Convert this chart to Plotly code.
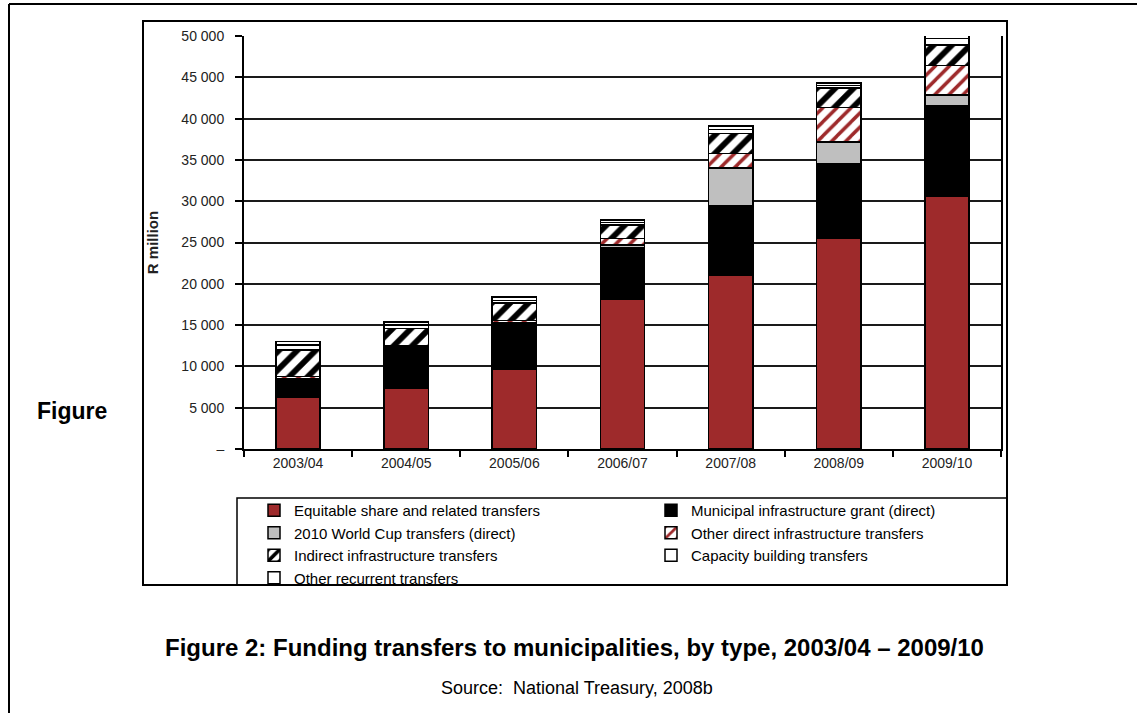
import plotly.graph_objects as go

# ---------------- data (R million) ----------------
years = ["2003/04", "2004/05", "2005/06", "2006/07", "2007/08", "2008/09", "2009/10"]
equitable = [6300, 7400, 9700, 18100, 21000, 25500, 30600]
mig = [2250, 5050, 5600, 6300, 8400, 9000, 11000]
world_cup = [0, 0, 0, 300, 4600, 2650, 1250]
other_direct = [250, 0, 250, 800, 1800, 4200, 3600]
indirect = [3200, 2150, 2150, 1600, 2400, 2350, 2450]
capacity = [600, 400, 300, 300, 500, 300, 800]
other_recurrent = [400, 400, 400, 300, 400, 300, 400]

y_tickvals = [0, 5000, 10000, 15000, 20000, 25000, 30000, 35000, 40000, 45000, 50000]
y_ticktext = ["–", "5 000", "10 000", "15 000", "20 000", "25 000", "30 000",
              "35 000", "40 000", "45 000", "50 000"]

# ---------------- geometry helpers ----------------
W, H = 1137, 713
PL, PR, PT, PB = 244, 1001, 36, 449
PW, PH = PR - PL, PB - PT


def px(x):
    return (x - PL) / PW


def py(y):
    return (PB - y) / PH


FONT = "Liberation Sans, Arial, sans-serif"
RED = "#9E2A2B"
LINE = dict(color="black", width=1.5)

series = [
    ("Equitable share and related transfers", equitable, dict(color=RED), "legend"),
    ("Municipal infrastructure grant (direct)", mig, dict(color="black"), "legend2"),
    ("2010 World Cup transfers (direct)", world_cup, dict(color="#BFBFBF"), "legend"),
    ("Other direct infrastructure transfers", other_direct,
     dict(color="white", pattern=dict(shape="/", fgcolor=RED, bgcolor="white",
                                      fgopacity=1, size=10, solidity=0.35)), "legend2"),
    ("Indirect infrastructure transfers", indirect,
     dict(color="white", pattern=dict(shape="/", fgcolor="black", bgcolor="white",
                                      fgopacity=1, size=13, solidity=0.45)), "legend"),
    ("Capacity building transfers", capacity, dict(color="white"), "legend2"),
    ("Other recurrent transfers", other_recurrent, dict(color="white"), "legend"),
]

fig = go.Figure()
for name, vals, mk, leg in series:
    marker = dict(mk)
    marker["line"] = LINE
    fig.add_trace(go.Bar(name=name, x=years, y=vals, marker=marker,
                         legend=leg, cliponaxis=False))

shapes = [
    # outer page frame (left and top edges)
    dict(type="line", xref="paper", yref="paper", x0=px(9), x1=px(9), y0=py(4), y1=py(730),
         line=dict(color="black", width=2)),
    dict(type="line", xref="paper", yref="paper", x0=px(9), x1=px(1150), y0=py(4), y1=py(4),
         line=dict(color="black", width=2)),
    # chart frame
    dict(type="rect", xref="paper", yref="paper", x0=px(143), x1=px(1007), y0=py(585), y1=py(21),
         line=dict(color="black", width=2)),
    # legend frame
    dict(type="rect", xref="paper", yref="paper", x0=px(237), x1=px(1007), y0=py(585), y1=py(498),
         line=dict(color="black", width=1.5)),
]

annotations = [
    dict(text="<b>Figure</b>", x=px(35), y=py(411), xref="paper", yref="paper",
         xanchor="left", yanchor="middle", showarrow=False,
         font=dict(family=FONT, size=23, color="black")),
    dict(text="<b>Figure 2: Funding transfers to municipalities, by type, 2003/04 – 2009/10</b>",
         x=px(574), y=py(647), xref="paper", yref="paper", xanchor="center", yanchor="middle",
         showarrow=False, font=dict(family=FONT, size=24, color="black")),
    dict(text="Source:  National Treasury, 2008b",
         x=px(577), y=py(688), xref="paper", yref="paper", xanchor="center", yanchor="middle",
         showarrow=False, font=dict(family=FONT, size=18, color="black")),
]

legend_common = dict(orientation="v", traceorder="normal", bgcolor="rgba(0,0,0,0)",
                     borderwidth=0, font=dict(family=FONT, size=15, color="black"),
                     yanchor="top", xanchor="left", itemclick=False, itemdoubleclick=False)

fig.update_layout(
    width=W, height=H,
    barmode="stack", bargap=0.59,
    paper_bgcolor="white", plot_bgcolor="white",
    margin=dict(l=PL, r=W - PR, t=PT, b=H - PB, autoexpand=False),
    font=dict(family=FONT, color="#222"),
    shapes=shapes, annotations=annotations,
    legend=dict(x=px(254), y=py(494), **legend_common),
    legend2=dict(x=px(651), y=py(494), **legend_common),
    xaxis=dict(type="category", showline=True, linecolor="black", linewidth=2,
               ticks="outside", tickson="boundaries", ticklen=6, tickcolor="black",
               tickwidth=1.5, showgrid=False,
               tickfont=dict(family=FONT, size=14, color="#222")),
    yaxis=dict(range=[0, 50000], tickvals=y_tickvals, ticktext=y_ticktext,
               showline=True, linecolor="black", linewidth=2, mirror=True,
               ticks="outside", ticklen=7, tickcolor="black", tickwidth=1.5,
               ticklabelstandoff=8,
               showgrid=True, gridcolor="#1a1a1a", gridwidth=1.5, zeroline=False,
               tickfont=dict(family=FONT, size=14, color="#222"),
               title=dict(text="<b>R million</b>", standoff=19,
                          font=dict(family=FONT, size=15, color="#222"))),
)

fig.write_html(
    "out.html",
    config={"displayModeBar": False},
    post_script="document.body.style.margin='0';document.body.style.overflow='hidden';",
)
